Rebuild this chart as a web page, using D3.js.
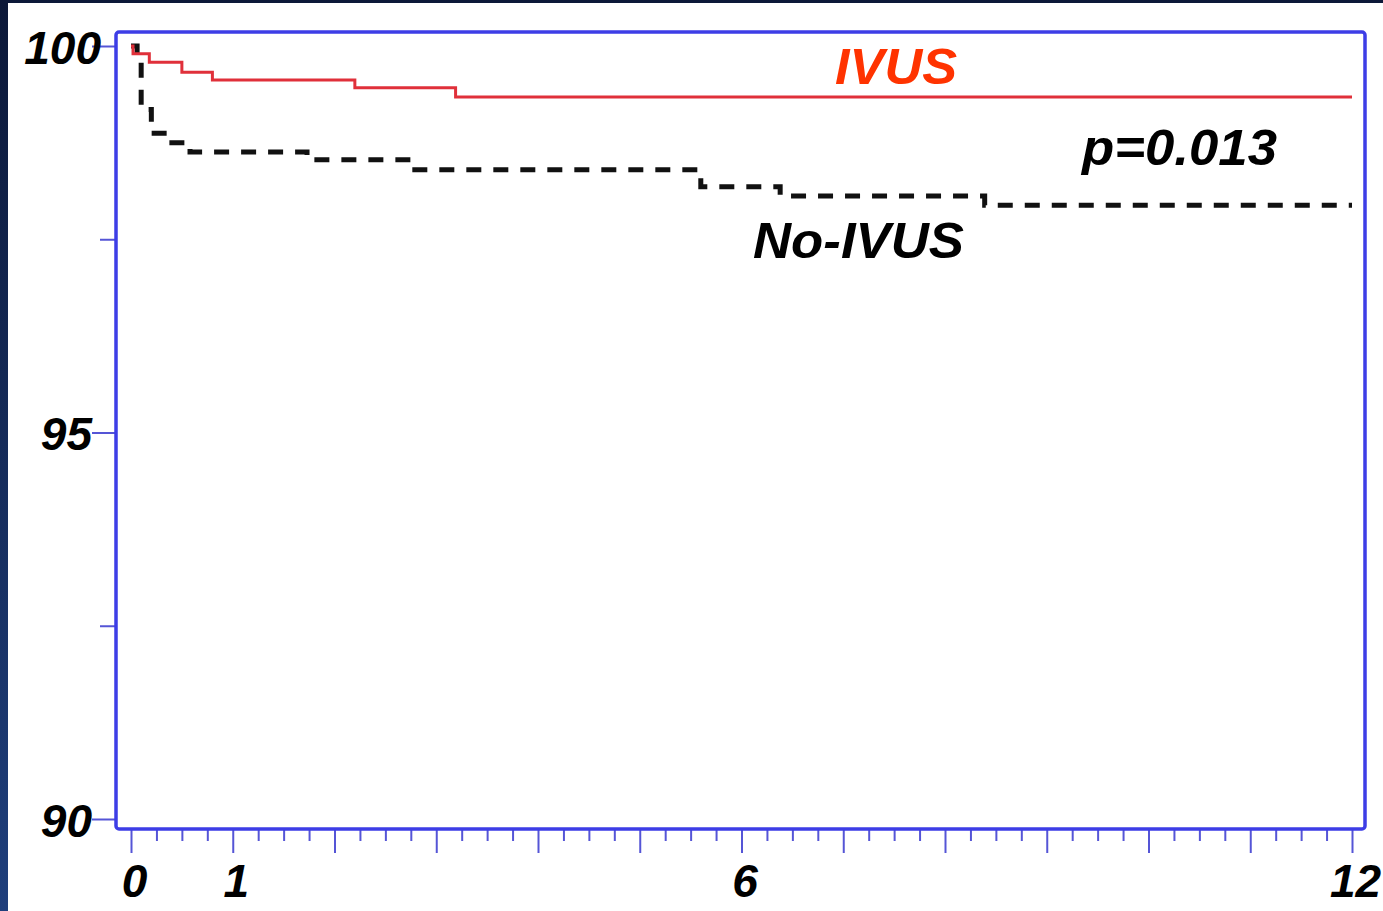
<!DOCTYPE html>
<html>
<head>
<meta charset="utf-8">
<script src="https://cdn.jsdelivr.net/npm/d3@7"></script>
<style>
  html, body { margin: 0; padding: 0; background: #0c1838; }
  svg { display: block; }
  text { font-family: "Liberation Sans", Arial, sans-serif; font-weight: bold; font-style: italic; }
</style>
</head>
<body>
<svg id="chart" width="1383" height="911"></svg>
<script>
// Kaplan–Meier curves: event-free survival (%) over months of follow-up
const ivusMonths   = [0, 0.02, 0.18, 0.5, 0.8, 2.2, 3.19, 12];
const ivusSurv     = [100, 99.9, 99.79, 99.66, 99.56, 99.46, 99.34, 99.34];
const noIvusMonths = [0, 0.06, 0.1, 0.2, 0.37, 0.58, 1.73, 2.76, 5.6, 6.38, 8.39, 12];
const noIvusSurv   = [100, 99.85, 99.18, 98.87, 98.75, 98.63, 98.53, 98.40, 98.18, 98.06, 97.94, 97.94];

const yTickValues  = [90, 92.5, 95, 97.5, 100];
const yLabelValues = [90, 95, 100];
const xTickValues  = d3.range(0, 12.001, 0.25);
const xLabelValues = [0, 1, 6, 12];

const seriesLabels = { ivus: "IVUS", noIvus: "No-IVUS", pValue: "p=0.013" };

const svg = d3.select("#chart");
const W = 1383, H = 911;

// page backdrop: dark navy with a white panel
const defs = svg.append("defs");
const grad = defs.append("linearGradient").attr("id", "edge").attr("x1", 0).attr("y1", 0).attr("x2", 0).attr("y2", 1);
grad.append("stop").attr("offset", "0%").attr("stop-color", "#0c1838");
grad.append("stop").attr("offset", "100%").attr("stop-color", "#1f3f7c");
svg.append("rect").attr("width", W).attr("height", H).attr("fill", "url(#edge)");
svg.append("rect").attr("x", 8).attr("y", 3).attr("width", W - 8).attr("height", H - 3).attr("fill", "#ffffff");

const x = d3.scaleLinear().domain([0, 12]).range([131, 1352]);
const y = d3.scaleLinear().domain([90, 100]).range([819, 46]);

const frameLeft = x(0) - 15, frameRight = x(12) + 13;
const frameTop = y(100) - 14, frameBottom = y(90) + 10;

const axisBlue = "#5555d6";

// y axis
const yAxis = svg.append("g")
  .attr("transform", `translate(${frameLeft},0)`)
  .call(d3.axisLeft(y).tickValues(yTickValues)
    .tickFormat(d => yLabelValues.includes(d) ? String(d) : ""));
yAxis.select(".domain").remove();
yAxis.selectAll(".tick line")
  .attr("x2", d => yLabelValues.includes(d) ? -24 : -16)
  .attr("stroke", axisBlue).attr("stroke-width", 2);
yAxis.selectAll(".tick text")
  .attr("x", d => d === 100 ? -15 : -24)
  .attr("dy", "0.37em")
  .attr("fill", "#000")
  .style("font-size", "46px");

// x axis
const xAxis = svg.append("g")
  .attr("transform", `translate(0,${frameBottom})`)
  .call(d3.axisBottom(x).tickValues(xTickValues)
    .tickFormat(d => xLabelValues.includes(d) ? String(d) : ""));
xAxis.select(".domain").remove();
xAxis.selectAll(".tick line")
  .attr("y2", d => Number.isInteger(d) ? 24 : 12)
  .attr("stroke", axisBlue).attr("stroke-width", 2);
xAxis.selectAll(".tick text")
  .attr("y", 68).attr("dy", 0).attr("dx", 3)
  .attr("fill", "#000")
  .style("font-size", "46px");

// plot frame
svg.append("rect")
  .attr("x", frameLeft).attr("y", frameTop)
  .attr("width", frameRight - frameLeft).attr("height", frameBottom - frameTop)
  .attr("rx", 3)
  .attr("fill", "none").attr("stroke", "#3d3de6").attr("stroke-width", 3.5);

// survival curves
const line = d3.line()
  .x(d => x(d[0]))
  .y(d => y(d[1]))
  .curve(d3.curveStepAfter);

const noIvusData = d3.zip(noIvusMonths, noIvusSurv);
const ivusData = d3.zip(ivusMonths, ivusSurv);

svg.append("path")
  .datum(noIvusData)
  .attr("d", line)
  .attr("fill", "none")
  .attr("stroke", "#111")
  .attr("stroke-width", 5)
  .attr("stroke-dasharray", "15,12");

svg.append("path")
  .datum(ivusData)
  .attr("d", line)
  .attr("fill", "none")
  .attr("stroke", "#e0303a")
  .attr("stroke-width", 3);

// annotations
svg.append("text")
  .attr("x", 835).attr("y", 84)
  .attr("fill", "#ff3300")
  .attr("textLength", 122).attr("lengthAdjust", "spacingAndGlyphs")
  .style("font-size", "50px")
  .text(seriesLabels.ivus);

svg.append("text")
  .attr("x", 1082).attr("y", 165)
  .attr("fill", "#000")
  .attr("textLength", 195).attr("lengthAdjust", "spacingAndGlyphs")
  .style("font-size", "50px")
  .text(seriesLabels.pValue);

svg.append("text")
  .attr("x", 753).attr("y", 258)
  .attr("fill", "#000")
  .attr("textLength", 211).attr("lengthAdjust", "spacingAndGlyphs")
  .style("font-size", "50px")
  .text(seriesLabels.noIvus);
</script>
</body>
</html>
